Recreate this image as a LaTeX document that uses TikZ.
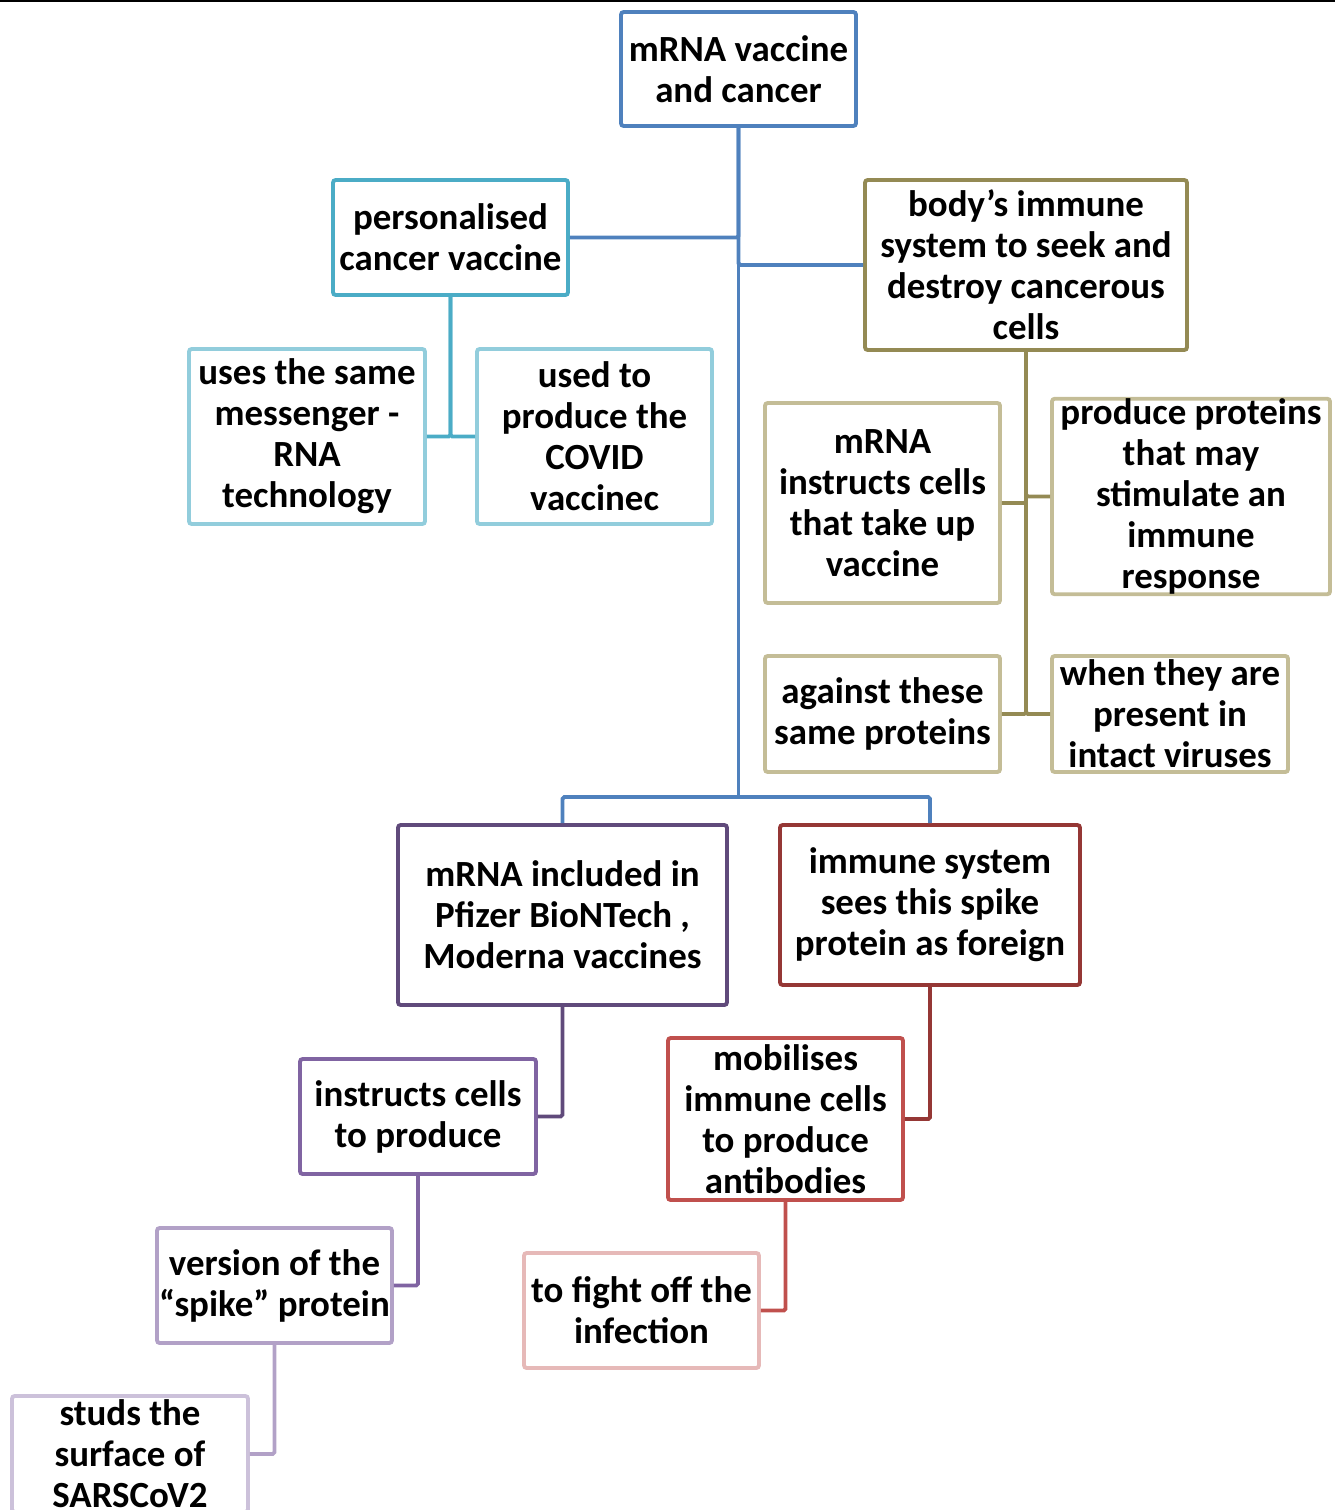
\documentclass[tikz,border=0pt]{standalone}
\usepackage{fontspec}
\setmainfont{Carlito}
\usetikzlibrary{positioning}
\definecolor{rootblue}{HTML}{4F81BD}
\definecolor{teal1}{HTML}{4BACC6}
\definecolor{teal2}{HTML}{92CDDC}
\definecolor{olive1}{HTML}{948A54}
\definecolor{olive2}{HTML}{C4BD97}
\definecolor{purp1}{HTML}{604A7B}
\definecolor{purp2}{HTML}{8064A2}
\definecolor{purp3}{HTML}{B2A1C7}
\definecolor{purp4}{HTML}{CCC1DA}
\definecolor{red1}{HTML}{953735}
\definecolor{red2}{HTML}{C0504D}
\definecolor{red3}{HTML}{E6B9B8}

\begin{document}
\begin{tikzpicture}[
  x=0.02cm, y=-0.02cm,
  box/.style={draw, line width=2.2pt, rounded corners=1.5pt, align=center, fill=white,
              inner sep=0pt, font=\fontsize{21}{23.3}\selectfont\bfseries,
              minimum width=4.7cm, minimum height=2.3cm},
  wire/.style={line width=2.2pt, rounded corners=1pt},
]
\useasboundingbox (0,0) rectangle (1335,1510);
\draw[line width=1.5pt] (0,1) -- (1335,1);

\node[box, draw=rootblue, minimum height=2.28cm] (root) at (738.5,69) {mRNA vaccine\\and cancer};

\node[box, draw=teal1] (pers) at (450.5,237.5) {personalised\\cancer vaccine};
\node[box, draw=teal2, minimum width=4.72cm, minimum height=3.5cm] (uses) at (307,436.5) {uses the same\\messenger -\\RNA\\technology};
\node[box, draw=teal2, minimum height=3.5cm] (covid) at (594.5,436.5) {used to\\produce the\\COVID\\vaccinec};

\node[box, draw=olive1, minimum width=6.44cm, minimum height=3.4cm] (body) at (1026,265) {body’s immune\\system to seek and\\destroy cancerous\\cells};
\node[box, draw=olive2, minimum height=4cm] (instr) at (882.5,503) {mRNA\\instructs cells\\that take up\\vaccine};
\node[box, draw=olive2, minimum width=5.56cm, minimum height=3.74cm] (prod) at (1191,496.5) {produce proteins\\that may\\stimulate an\\immune\\response};
\node[box, draw=olive2, minimum height=2.32cm] (against) at (882.5,714) {against these\\same proteins};
\node[box, draw=olive2, minimum width=4.72cm, minimum height=2.32cm] (when) at (1170,714) {when they are\\present in\\intact viruses};

\node[box, draw=purp1, minimum width=6.58cm, minimum height=3.6cm] (pfizer) at (562.5,915) {mRNA included in\\Pfizer BioNTech ,\\Moderna vaccines};
\node[box, draw=purp2, minimum width=4.72cm] (cells) at (418,1116.5) {instructs cells\\to produce};
\node[box, draw=purp3] (spike) at (274.5,1285.5) {version of the\\“spike” protein};
\node[box, draw=purp4, minimum width=4.72cm, minimum height=2.32cm] (studs) at (130,1454) {studs the\\surface of\\SARSCoV2};

\node[box, draw=red1, minimum width=6cm, minimum height=3.2cm] (immune) at (930,905) {immune system\\sees this spike\\protein as foreign};
\node[box, draw=red2, minimum height=3.24cm] (mob) at (785.5,1119) {mobilises\\immune cells\\to produce\\antibodies};
\node[box, draw=red3] (fight) at (641.5,1310.5) {to fight off the\\infection};

\coordinate (split) at (738.5,797);
\draw[wire, rootblue] (root.south) -- (split);
\draw[wire, rootblue] (root.south) |- (pers.east);
\draw[wire, rootblue] (root.south) |- (body.west);
\draw[wire, rootblue] (pfizer.north) |- (split) -| (immune.north);

\draw[wire, teal1] (pers.south) |- (uses.east);
\draw[wire, teal1] (pers.south) |- (covid.west);

\draw[wire, olive1] (body.south) |- (instr.east);
\draw[wire, olive1] (body.south) |- (prod.west);
\draw[wire, olive1] (body.south) |- (against.east);
\draw[wire, olive1] (body.south) |- (when.west);

\draw[wire, purp1] (pfizer.south) |- (cells.east);
\draw[wire, purp2] (cells.south) |- (spike.east);
\draw[wire, purp3] (spike.south) |- (studs.east);

\draw[wire, red1] (immune.south) |- (mob.east);
\draw[wire, red2] (mob.south) |- (fight.east);
\end{tikzpicture}
\end{document}
